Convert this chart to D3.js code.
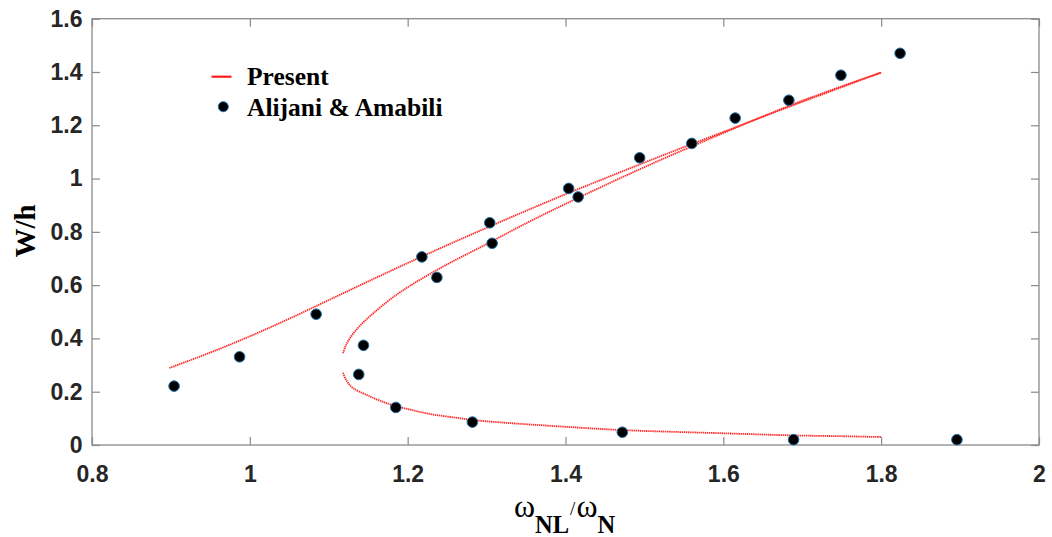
<!DOCTYPE html>
<html>
<head>
<meta charset="utf-8">
<script src="https://cdn.jsdelivr.net/npm/d3@7"></script>
<style>
  html, body { margin: 0; padding: 0; background: #fff; }
  svg { display: block; }
</style>
</head>
<body>
<svg id="chart" width="1052" height="537"></svg>
<script>
// Axis ticks
const xTicks = [0.8, 1, 1.2, 1.4, 1.6, 1.8, 2];
const xTickLabels = ["0.8", "1", "1.2", "1.4", "1.6", "1.8", "2"];
const yTicks = [0, 0.2, 0.4, 0.6, 0.8, 1, 1.2, 1.4, 1.6];
const yTickLabels = ["0", "0.2", "0.4", "0.6", "0.8", "1", "1.2", "1.4", "1.6"];

// Present model: upper (resonant) branch
const upperX = [0.898, 0.95, 1.00, 1.05, 1.10, 1.15, 1.20, 1.25, 1.30, 1.35, 1.40, 1.45, 1.50, 1.55, 1.60, 1.65, 1.70, 1.75, 1.80];
const upperW = [0.289, 0.347, 0.408, 0.474, 0.544, 0.614, 0.683, 0.750, 0.815, 0.879, 0.941, 1.001, 1.060, 1.118, 1.175, 1.232, 1.288, 1.343, 1.398];

// Present model: middle (unstable) branch from the turning point
const middleX = [1.118, 1.121, 1.125, 1.131, 1.140, 1.152, 1.167, 1.185, 1.207, 1.25, 1.30, 1.35, 1.40, 1.45, 1.50, 1.55, 1.60, 1.65, 1.70, 1.75, 1.80];
const middleW = [0.344, 0.369, 0.392, 0.418, 0.449, 0.483, 0.521, 0.562, 0.605, 0.678, 0.754, 0.832, 0.905, 0.975, 1.043, 1.108, 1.171, 1.233, 1.292, 1.346, 1.398];

// Present model: lower (non-resonant) branch
const lowerX = [1.118, 1.121, 1.125, 1.131, 1.148, 1.165, 1.185, 1.21, 1.233, 1.26, 1.282, 1.317, 1.36, 1.418, 1.472, 1.53, 1.60, 1.689, 1.75, 1.80];
const lowerW = [0.271, 0.250, 0.231, 0.213, 0.188, 0.166, 0.146, 0.128, 0.114, 0.103, 0.094, 0.085, 0.076, 0.065, 0.056, 0.050, 0.044, 0.036, 0.033, 0.030];

// Alijani & Amabili reference results
const refX = [0.904, 0.987, 1.084, 1.218, 1.237, 1.304, 1.307, 1.144, 1.138, 1.185, 1.282, 1.404, 1.416, 1.472, 1.494, 1.560, 1.615, 1.683, 1.749, 1.824, 1.689, 1.896];
const refW = [0.221, 0.331, 0.491, 0.706, 0.629, 0.834, 0.757, 0.374, 0.265, 0.141, 0.086, 0.963, 0.931, 0.048, 1.078, 1.132, 1.227, 1.294, 1.388, 1.470, 0.020, 0.020];

const legendLabels = ["Present", "Alijani & Amabili"];

const svg = d3.select("#chart");
const plot = { left: 92, right: 1039, top: 18.7, bottom: 445 };

const x = d3.scaleLinear().domain([0.8, 2]).range([plot.left, plot.right]);
const y = d3.scaleLinear().domain([0, 1.6]).range([plot.bottom, plot.top]);

const axisColor = "#8a8a8a";
const tickText = "#262626";
const sansBold = "'Liberation Sans', Arial, sans-serif";
const serif = "'Liberation Serif', 'Times New Roman', serif";

// Bottom axis with inward ticks
const gx = svg.append("g")
  .attr("transform", `translate(0,${plot.bottom})`)
  .call(d3.axisBottom(x).tickValues(xTicks)
    .tickFormat((d, i) => xTickLabels[i])
    .tickSizeInner(-8).tickSizeOuter(0).tickPadding(20.5));

// Left axis with inward ticks
const gy = svg.append("g")
  .attr("transform", `translate(${plot.left},0)`)
  .call(d3.axisLeft(y).tickValues(yTicks)
    .tickFormat((d, i) => yTickLabels[i])
    .tickSizeInner(-8).tickSizeOuter(0).tickPadding(9.5));

// Top and right axes: ticks only
const gt = svg.append("g")
  .attr("transform", `translate(0,${plot.top})`)
  .call(d3.axisTop(x).tickValues(xTicks).tickFormat("")
    .tickSizeInner(-8).tickSizeOuter(0));
const gr = svg.append("g")
  .attr("transform", `translate(${plot.right},0)`)
  .call(d3.axisRight(y).tickValues(yTicks).tickFormat("")
    .tickSizeInner(-8).tickSizeOuter(0));

[gx, gy, gt, gr].forEach(g => {
  g.selectAll(".domain").remove();
  g.selectAll(".tick line").attr("stroke", axisColor).attr("stroke-width", 1.2);
  g.selectAll(".tick text")
    .attr("fill", tickText)
    .style("font-family", sansBold)
    .style("font-weight", "bold")
    .style("font-size", "23px");
});

// Axes box
svg.append("rect")
  .attr("x", plot.left).attr("y", plot.top)
  .attr("width", plot.right - plot.left)
  .attr("height", plot.bottom - plot.top)
  .attr("fill", "none")
  .attr("stroke", axisColor)
  .attr("stroke-width", 1.3);

// Red dotted curves
const line = d3.line()
  .x(d => x(d[0]))
  .y(d => y(d[1]))
  .curve(d3.curveCatmullRom.alpha(0.5));

const branches = [
  d3.zip(upperX, upperW),
  d3.zip(middleX, middleW),
  d3.zip(lowerX, lowerW)
];

svg.append("g").selectAll("path")
  .data(branches)
  .join("path")
  .attr("d", line)
  .attr("fill", "none")
  .attr("stroke", "#ff2a2a")
  .attr("stroke-width", 1.8)
  .attr("stroke-dasharray", "1.4 0.7");

// Reference markers
svg.append("g").selectAll("circle")
  .data(d3.zip(refX, refW))
  .join("circle")
  .attr("cx", d => x(d[0]))
  .attr("cy", d => y(d[1]))
  .attr("r", 5.3)
  .attr("fill", "#000")
  .attr("stroke", "#1f6fa6")
  .attr("stroke-width", 1);

// Legend
const legend = svg.append("g");
legend.append("line")
  .attr("x1", 211.5).attr("x2", 231.5)
  .attr("y1", 76.7).attr("y2", 76.7)
  .attr("stroke", "#ff1a1a").attr("stroke-width", 2.2);
legend.append("circle")
  .attr("cx", 223.3).attr("cy", 106.7).attr("r", 5)
  .attr("fill", "#000").attr("stroke", "#1f6fa6").attr("stroke-width", 1);
legend.selectAll("text")
  .data(legendLabels)
  .join("text")
  .attr("x", 247)
  .attr("y", (d, i) => 85 + i * 30.5)
  .attr("fill", "#000")
  .style("font-family", serif)
  .style("font-weight", "bold")
  .style("font-size", "25.5px")
  .text(d => d);

// Y axis title
svg.append("text")
  .attr("transform", "translate(35,231) rotate(-90)")
  .attr("text-anchor", "middle")
  .attr("fill", "#000")
  .style("font-family", serif)
  .style("font-weight", "bold")
  .style("font-size", "29px")
  .text("W/h");

// X axis title: ω_NL / ω_N
const xt = svg.append("text")
  .attr("x", 514)
  .attr("y", 516.7)
  .attr("fill", "#000")
  .style("font-family", serif);
xt.append("tspan").style("font-size", "32px").text("ω");
xt.append("tspan").attr("dy", 16.6).style("font-size", "24.5px").style("font-weight", "bold").text("NL");
xt.append("tspan").attr("dy", -18.3).attr("dx", 1).style("font-size", "19px").text("/");
xt.append("tspan").attr("dy", 1.7).attr("dx", 1).style("font-size", "32px").text("ω");
xt.append("tspan").attr("dy", 16.6).style("font-size", "24.5px").style("font-weight", "bold").text("N");
</script>
</body>
</html>
